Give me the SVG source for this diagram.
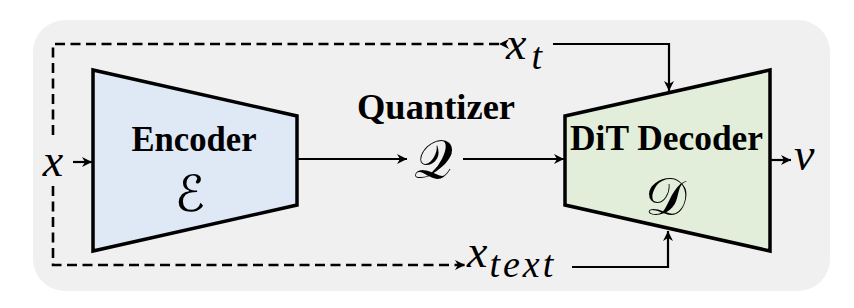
<svg xmlns="http://www.w3.org/2000/svg" width="854" height="308" viewBox="0 0 854 308">
<defs>
<style>
.lbl{font-family:"Liberation Serif","Times New Roman",serif;font-weight:bold;font-size:35px;fill:#000}
.math{font-family:"Liberation Serif","Times New Roman",serif;font-style:italic;fill:#000}
.scr{font-family:"DejaVu Sans","Noto Sans",serif;fill:#000}
.ln{fill:none;stroke:#000;stroke-width:2.2}
.dash{fill:none;stroke:#000;stroke-width:2.6;stroke-dasharray:10 5.5}
.box{stroke:#000;stroke-width:3.5;stroke-linejoin:miter}
</style>
<marker id="ah" viewBox="0 0 10 10" refX="10" refY="5" markerWidth="10" markerHeight="10" markerUnits="userSpaceOnUse" orient="auto">
<path d="M0,0 L10,5 L0,10 L3,5 Z" fill="#000"/>
</marker>
</defs>
<rect x="33" y="20" width="797" height="271" rx="32" ry="32" fill="#f0f0f0"/>
<g id="connectors">
<path class="dash" d="M499,44 H53 V138" marker-start="url(#ah)"/>
<path class="dash" d="M53,186 V265 H465" marker-end="url(#ah)"/>
<path class="ln" d="M73,162 H92" marker-end="url(#ah)"/>
<path class="ln" d="M297,159 H407" marker-end="url(#ah)"/>
<path class="ln" d="M463,159 H564" marker-end="url(#ah)"/>
<path class="ln" d="M553,44 H669 V91" marker-end="url(#ah)"/>
<path class="ln" d="M572,267 H668 V231" marker-end="url(#ah)"/>
<path class="ln" d="M770,160 H791" marker-end="url(#ah)"/>
</g>
<g id="encoder">
<polygon class="box" points="93,70 297,116 297,205 93,251" fill="#dfe8f5"/>
<text class="lbl" x="194" y="151" text-anchor="middle" textLength="125" lengthAdjust="spacingAndGlyphs">Encoder</text>
<text class="scr" x="190" y="211" text-anchor="middle" font-size="50">ℰ</text>
</g>
<g id="quantizer">
<text class="lbl" x="436" y="118.5" text-anchor="middle" textLength="158" lengthAdjust="spacingAndGlyphs">Quantizer</text>
<text class="scr" x="433" y="178" text-anchor="middle" font-size="54">𝒬</text>
</g>
<g id="decoder">
<polygon class="box" points="565,116 770,70 770,251 565,205" fill="#e2eed9"/>
<text class="lbl" x="666.5" y="150" text-anchor="middle" textLength="193" lengthAdjust="spacingAndGlyphs">DiT Decoder</text>
<text class="scr" x="666" y="215" text-anchor="middle" font-size="52">𝒟</text>
</g>
<g id="input-x">
<text class="math" x="53" y="176" text-anchor="middle" font-size="46">x</text>
</g>
<g id="input-xt">
<text class="math" x="506" y="59" font-size="46">x<tspan font-size="38" dx="5" dy="10">t</tspan></text>
</g>
<g id="input-xtext">
<text class="math" x="467" y="267" font-size="46">x<tspan font-size="38" dx="2" dy="10" letter-spacing="3">text</tspan></text>
</g>
<g id="output-v">
<text class="math" x="794" y="170" font-size="46">v</text>
</g>
</svg>
